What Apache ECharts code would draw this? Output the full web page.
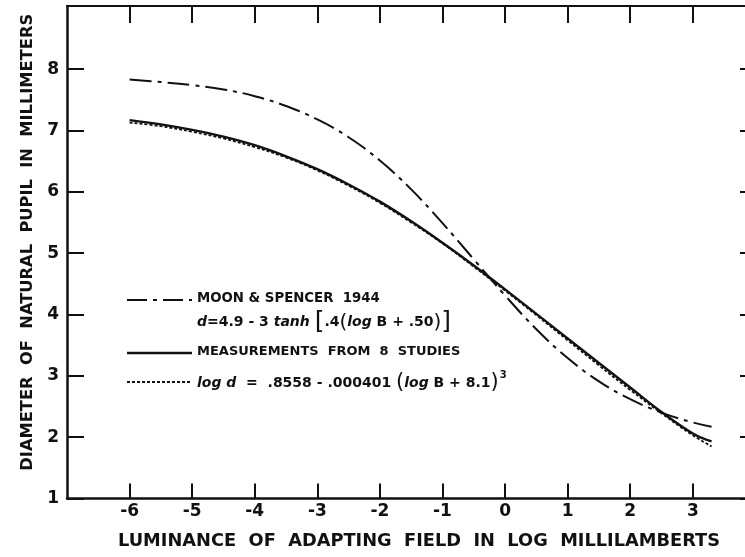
<!DOCTYPE html>
<html>
<head>
<meta charset="utf-8">
<script src="https://cdn.jsdelivr.net/npm/echarts@6/dist/echarts.min.js"></script>
<style>
  html, body { margin: 0; padding: 0; background: #fff; }
  #chart { width: 745px; height: 557px; }
</style>
</head>
<body>
<div id="chart"></div>
<script>
// Log luminance of the adapting field (log millilamberts)
const logLuminance = [-6, -5.5, -5, -4.5, -4, -3.5, -3, -2.5, -2, -1.5, -1, -0.5, 0, 0.5, 1, 1.5, 2, 2.5, 3, 3.3];

// Pupil diameter, mm
const moonSpencer = [7.83, 7.79, 7.74, 7.67, 7.56, 7.40, 7.18, 6.89, 6.51, 6.04, 5.49, 4.90, 4.31, 3.76, 3.29, 2.91, 2.62, 2.40, 2.24, 2.17];
const measurements = [7.17, 7.10, 7.01, 6.90, 6.76, 6.58, 6.37, 6.12, 5.84, 5.52, 5.17, 4.80, 4.41, 4.01, 3.61, 3.21, 2.81, 2.41, 2.06, 1.93];
const fittedCurve = [7.13, 7.07, 6.98, 6.87, 6.73, 6.56, 6.35, 6.10, 5.82, 5.50, 5.16, 4.78, 4.39, 3.99, 3.58, 3.17, 2.77, 2.39, 2.03, 1.85];

// Axis ticks
const xTicks = [-6, -5, -4, -3, -2, -1, 0, 1, 2, 3];
const yTicks = [1, 2, 3, 4, 5, 6, 7, 8];

const FONT = '"DejaVu Sans", "Liberation Sans", sans-serif';
const INK = '#111';

const pairs = ys => logLuminance.map((x, i) => [x, ys[i]]);

const chart = echarts.init(document.getElementById('chart'), null, { renderer: 'canvas' });

const axisLine = (show, w) => ({ show: show, onZero: false, lineStyle: { color: INK, width: w } });
const ticks = (values, len) => ({ show: true, inside: true, length: len, customValues: values, lineStyle: { color: INK, width: 2 } });

// The frame runs past the right edge of the page, so the x range ends just short of 4.
const X_MIN = -7, X_MAX = 3.834;
const Y_MIN = 1, Y_MAX = 9.03;

chart.setOption({
  backgroundColor: '#fff',
  animation: false,
  grid: { left: 67, top: 6, right: 0, bottom: 58.5, containLabel: false },
  xAxis: [
    {
      type: 'value', position: 'bottom', min: X_MIN, max: X_MAX,
      axisLine: axisLine(true, 2.5),
      axisTick: ticks(xTicks, 15),
      axisLabel: {
        show: true, margin: 5, color: INK, fontFamily: FONT, fontWeight: 'bold', fontSize: 17,
        customValues: xTicks, formatter: v => String(v)
      },
      splitLine: { show: false },
      name: 'LUMINANCE  OF  ADAPTING  FIELD  IN  LOG  MILLILAMBERTS',
      nameLocation: 'middle', nameGap: 34,
      nameTextStyle: { color: INK, fontFamily: FONT, fontWeight: 'bold', fontSize: 17.8, padding: [0, 0, 0, 26] }
    },
    {
      type: 'value', position: 'top', min: X_MIN, max: X_MAX,
      axisLine: axisLine(true, 2),
      axisTick: ticks(xTicks, 17),
      axisLabel: { show: false },
      splitLine: { show: false }
    }
  ],
  yAxis: [
    {
      type: 'value', position: 'left', min: Y_MIN, max: Y_MAX,
      axisLine: axisLine(true, 2.5),
      axisTick: ticks(yTicks, 17),
      axisLabel: {
        show: true, margin: 8, color: INK, fontFamily: FONT, fontWeight: 'bold', fontSize: 17,
        customValues: yTicks, formatter: v => String(v)
      },
      splitLine: { show: false },
      name: 'DIAMETER  OF  NATURAL  PUPIL  IN  MILLIMETERS',
      nameLocation: 'middle', nameGap: 31, nameRotate: 90,
      nameTextStyle: { color: INK, fontFamily: FONT, fontWeight: 'bold', fontSize: 16.3, padding: [0, 0, 0, 20] }
    },
    {
      type: 'value', position: 'right', min: Y_MIN, max: Y_MAX,
      axisLine: axisLine(false, 2),
      axisTick: ticks(yTicks, 5),
      axisLabel: { show: false },
      splitLine: { show: false }
    }
  ],
  series: [
    {
      name: 'MOON & SPENCER 1944', type: 'line', smooth: 0.4, showSymbol: false,
      data: pairs(moonSpencer),
      lineStyle: { color: INK, width: 2, type: [22, 6, 4, 6] }
    },
    {
      name: 'MEASUREMENTS FROM 8 STUDIES', type: 'line', smooth: 0.4, showSymbol: false,
      data: pairs(measurements),
      lineStyle: { color: INK, width: 2.4, type: 'solid' }
    },
    {
      name: 'FITTED', type: 'line', smooth: 0.4, showSymbol: false,
      data: pairs(fittedCurve),
      lineStyle: { color: INK, width: 1.8, type: [3, 2] }
    }
  ],
  graphic: [
    // key: line samples
    { type: 'line', shape: { x1: 127, y1: 300, x2: 192, y2: 300 }, style: { stroke: INK, lineWidth: 2, lineDash: [20, 6, 4, 6] } },
    { type: 'line', shape: { x1: 127, y1: 353, x2: 192, y2: 353 }, style: { stroke: INK, lineWidth: 2.4 } },
    { type: 'line', shape: { x1: 127, y1: 382, x2: 192, y2: 382 }, style: { stroke: INK, lineWidth: 1.8, lineDash: [3, 2] } },
    // key: labels
    {
      type: 'text', left: 197, top: 292,
      style: { text: 'MOON & SPENCER  1944', font: 'bold 13.3px ' + FONT, fill: INK }
    },
    {
      type: 'text', left: 197, top: 310,
      style: {
        text: '{i|d}{n|=4.9 - 3 }{i|tanh }{b|[}{n|.4}{p|(}{i|log }{n|B + .50}{p|)}{b|]}',
        fill: INK,
        rich: {
          n: { font: 'bold 14px ' + FONT, fill: INK },
          i: { font: 'italic bold 14px ' + FONT, fill: INK },
          p: { font: '20px ' + FONT, fill: INK },
          b: { font: '25px ' + FONT, fill: INK }
        }
      }
    },
    {
      type: 'text', left: 197, top: 345,
      style: { text: 'MEASUREMENTS  FROM  8  STUDIES', font: 'bold 13px ' + FONT, fill: INK }
    },
    {
      type: 'text', left: 197, top: 370,
      style: {
        text: '{i|log d}{n|  =  .8558 - .000401 }{p|(}{i|log }{n|B + 8.1}{p|)}{s|3}',
        fill: INK,
        rich: {
          n: { font: 'bold 14px ' + FONT, fill: INK },
          i: { font: 'italic bold 14px ' + FONT, fill: INK },
          p: { font: '21px ' + FONT, fill: INK },
          s: { font: 'bold 10px ' + FONT, fill: INK, padding: [0, 0, 16, 1] }
        }
      }
    }
  ]
});
</script>
</body>
</html>
